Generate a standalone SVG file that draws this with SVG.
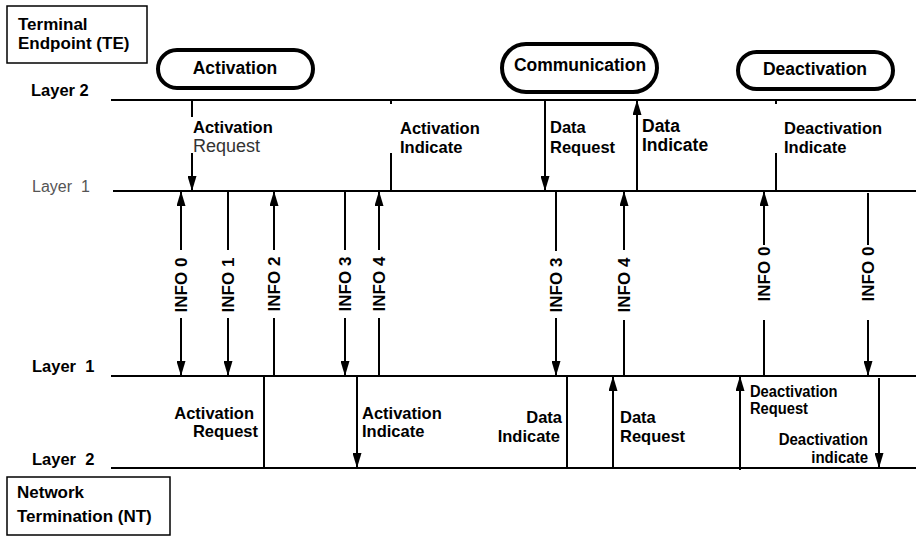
<svg xmlns="http://www.w3.org/2000/svg" width="916" height="539" viewBox="0 0 916 539">
  <style>
    text { font-family: "Liberation Sans", Arial, sans-serif; fill: #000; }
    .b { font-weight: bold; font-size: 16.5px; }
    .bs { font-weight: bold; font-size: 16px; }
    .box { font-weight: bold; font-size: 17px; }
    .phase { font-weight: bold; font-size: 17.5px; }
    .info { font-weight: bold; font-size: 17px; }
    .thin { font-weight: normal; font-size: 18px; fill: #333; }
    .grey { font-weight: normal; font-size: 16px; fill: #555; }
    .layer { stroke: #000; stroke-width: 2.2; fill: none; }
    .sig { stroke: #000; stroke-width: 2; fill: none; }
    .pill { stroke: #000; stroke-width: 4; fill: #fff; }
    .frame { stroke: #000; stroke-width: 1.5; fill: #fff; }
  </style>
  <defs>
    <marker id="ah" viewBox="0 0 15 9" refX="15" refY="4.5" markerWidth="15" markerHeight="9" markerUnits="userSpaceOnUse" orient="auto-start-reverse">
      <path d="M0,0 L15,4.5 L0,9 z" fill="#000"/>
    </marker>
  </defs>

  <rect width="916" height="539" fill="#fff"/>

  <!-- layer lines -->
  <g id="layers">
    <line class="layer" x1="111" y1="100" x2="916" y2="100"/>
    <line class="layer" x1="113" y1="191" x2="916" y2="191"/>
    <line class="layer" x1="111" y1="376" x2="916" y2="376"/>
    <line class="layer" x1="111" y1="468" x2="916" y2="468"/>
    <text class="b" x="31" y="96">Layer 2</text>
    <text class="grey" x="32" y="192" xml:space="preserve">Layer  1</text>
    <text class="b" x="32" y="372" xml:space="preserve">Layer  1</text>
    <text class="b" x="32" y="465" xml:space="preserve">Layer  2</text>
  </g>

  <!-- station boxes -->
  <g id="te">
    <rect class="frame" x="7" y="6" width="140" height="57"/>
    <text class="box" x="18" y="30">Terminal</text>
    <text class="box" x="18" y="49">Endpoint (TE)</text>
  </g>
  <g id="nt">
    <rect class="frame" x="7" y="477" width="163" height="58"/>
    <text class="box" x="17" y="498">Network</text>
    <text class="box" x="17" y="522">Termination (NT)</text>
  </g>

  <!-- phase capsules -->
  <g id="activation">
    <rect class="pill" x="158" y="50" width="155" height="38" rx="19"/>
    <text class="phase" x="235" y="74" text-anchor="middle">Activation</text>
  </g>
  <g id="communication">
    <rect class="pill" x="502" y="44" width="155" height="48" rx="24"/>
    <text class="phase" x="580" y="71" text-anchor="middle">Communication</text>
  </g>
  <g id="deactivation">
    <rect class="pill" x="738" y="52" width="155" height="37" rx="18.5"/>
    <text class="phase" x="815" y="75" text-anchor="middle">Deactivation</text>
  </g>

  <!-- primitives and INFO signals -->
  <g id="connectors">
    <!-- TE: layer 2 / layer 1 -->
    <line class="sig" x1="192" y1="100" x2="192" y2="117"/>
    <line class="sig" x1="192" y1="153" x2="192" y2="191" marker-end="url(#ah)"/>
    <line class="sig" x1="391" y1="100" x2="391" y2="104"/>
    <line class="sig" x1="391" y1="153" x2="391" y2="191"/>
    <line class="sig" x1="545" y1="100" x2="545" y2="191" marker-end="url(#ah)"/>
    <line class="sig" x1="637" y1="191" x2="637" y2="100" marker-end="url(#ah)"/>
    <line class="sig" x1="776" y1="100" x2="776" y2="104"/>
    <line class="sig" x1="776" y1="153" x2="776" y2="191"/>

    <!-- INFO exchanges -->
    <line class="sig" x1="181" y1="191" x2="181" y2="250" marker-start="url(#ah)"/>
    <line class="sig" x1="181" y1="318" x2="181" y2="376" marker-end="url(#ah)"/>
    <line class="sig" x1="228" y1="191" x2="228" y2="250"/>
    <line class="sig" x1="228" y1="318" x2="228" y2="376" marker-end="url(#ah)"/>
    <line class="sig" x1="274" y1="191" x2="274" y2="250" marker-start="url(#ah)"/>
    <line class="sig" x1="274" y1="318" x2="274" y2="376"/>
    <line class="sig" x1="345" y1="191" x2="345" y2="250"/>
    <line class="sig" x1="345" y1="318" x2="345" y2="376" marker-end="url(#ah)"/>
    <line class="sig" x1="379" y1="191" x2="379" y2="250" marker-start="url(#ah)"/>
    <line class="sig" x1="379" y1="318" x2="379" y2="376"/>
    <line class="sig" x1="556" y1="191" x2="556" y2="251"/>
    <line class="sig" x1="556" y1="318" x2="556" y2="376" marker-end="url(#ah)"/>
    <line class="sig" x1="624" y1="191" x2="624" y2="250" marker-start="url(#ah)"/>
    <line class="sig" x1="624" y1="320" x2="624" y2="376"/>
    <line class="sig" x1="764" y1="191" x2="764" y2="245" marker-start="url(#ah)"/>
    <line class="sig" x1="764" y1="320" x2="764" y2="376"/>
    <line class="sig" x1="868" y1="193" x2="868" y2="245"/>
    <line class="sig" x1="868" y1="320" x2="868" y2="376" marker-end="url(#ah)"/>

    <!-- NT: layer 1 / layer 2 -->
    <line class="sig" x1="264" y1="376" x2="264" y2="468"/>
    <line class="sig" x1="357" y1="376" x2="357" y2="468" marker-end="url(#ah)"/>
    <line class="sig" x1="567" y1="376" x2="567" y2="468"/>
    <line class="sig" x1="613" y1="468" x2="613" y2="376" marker-end="url(#ah)"/>
    <line class="sig" x1="740" y1="470" x2="740" y2="376" marker-end="url(#ah)"/>
    <line class="sig" x1="879" y1="378" x2="879" y2="468" marker-end="url(#ah)"/>
  </g>

  <!-- INFO labels -->
  <g id="info-labels">
    <text class="info" transform="translate(187,285) rotate(-90)" text-anchor="middle">INFO 0</text>
    <text class="info" transform="translate(234,285) rotate(-90)" text-anchor="middle">INFO 1</text>
    <text class="info" transform="translate(280,284) rotate(-90)" text-anchor="middle">INFO 2</text>
    <text class="info" transform="translate(351,284) rotate(-90)" text-anchor="middle">INFO 3</text>
    <text class="info" transform="translate(385,284) rotate(-90)" text-anchor="middle">INFO 4</text>
    <text class="info" transform="translate(562,285) rotate(-90)" text-anchor="middle">INFO 3</text>
    <text class="info" transform="translate(630,285) rotate(-90)" text-anchor="middle">INFO 4</text>
    <text class="info" transform="translate(770,274) rotate(-90)" text-anchor="middle">INFO 0</text>
    <text class="info" transform="translate(874,274) rotate(-90)" text-anchor="middle">INFO 0</text>
  </g>

  <!-- TE primitive labels -->
  <g id="te-labels">
    <text class="b" x="193" y="133">Activation</text>
    <text class="thin" x="193" y="152">Request</text>
    <text class="b" x="400" y="134">Activation</text>
    <text class="b" x="400" y="153">Indicate</text>
    <text class="b" x="550" y="133">Data</text>
    <text class="b" x="550" y="153">Request</text>
    <text class="phase" x="642" y="132">Data</text>
    <text class="phase" x="642" y="151">Indicate</text>
    <text class="b" x="784" y="134">Deactivation</text>
    <text class="b" x="784" y="153">Indicate</text>
  </g>

  <!-- NT primitive labels -->
  <g id="nt-labels">
    <text class="b" x="254" y="419" text-anchor="end">Activation</text>
    <text class="b" x="258" y="437" text-anchor="end">Request</text>
    <text class="b" x="362" y="419">Activation</text>
    <text class="b" x="362" y="437">Indicate</text>
    <text class="b" x="562" y="423" text-anchor="end">Data</text>
    <text class="b" x="560" y="442" text-anchor="end">Indicate</text>
    <text class="b" x="620" y="423">Data</text>
    <text class="b" x="620" y="442">Request</text>
    <!-- narrow-set deactivation labels -->
    <text class="bs" transform="translate(750,397) scale(0.92,1)">Deactivation</text>
    <text class="bs" transform="translate(750,414) scale(0.92,1)">Request</text>
    <text class="bs" transform="translate(868,445) scale(0.94,1)" text-anchor="end">Deactivation</text>
    <text class="bs" transform="translate(868,463) scale(0.94,1)" text-anchor="end">indicate</text>
  </g>
</svg>
